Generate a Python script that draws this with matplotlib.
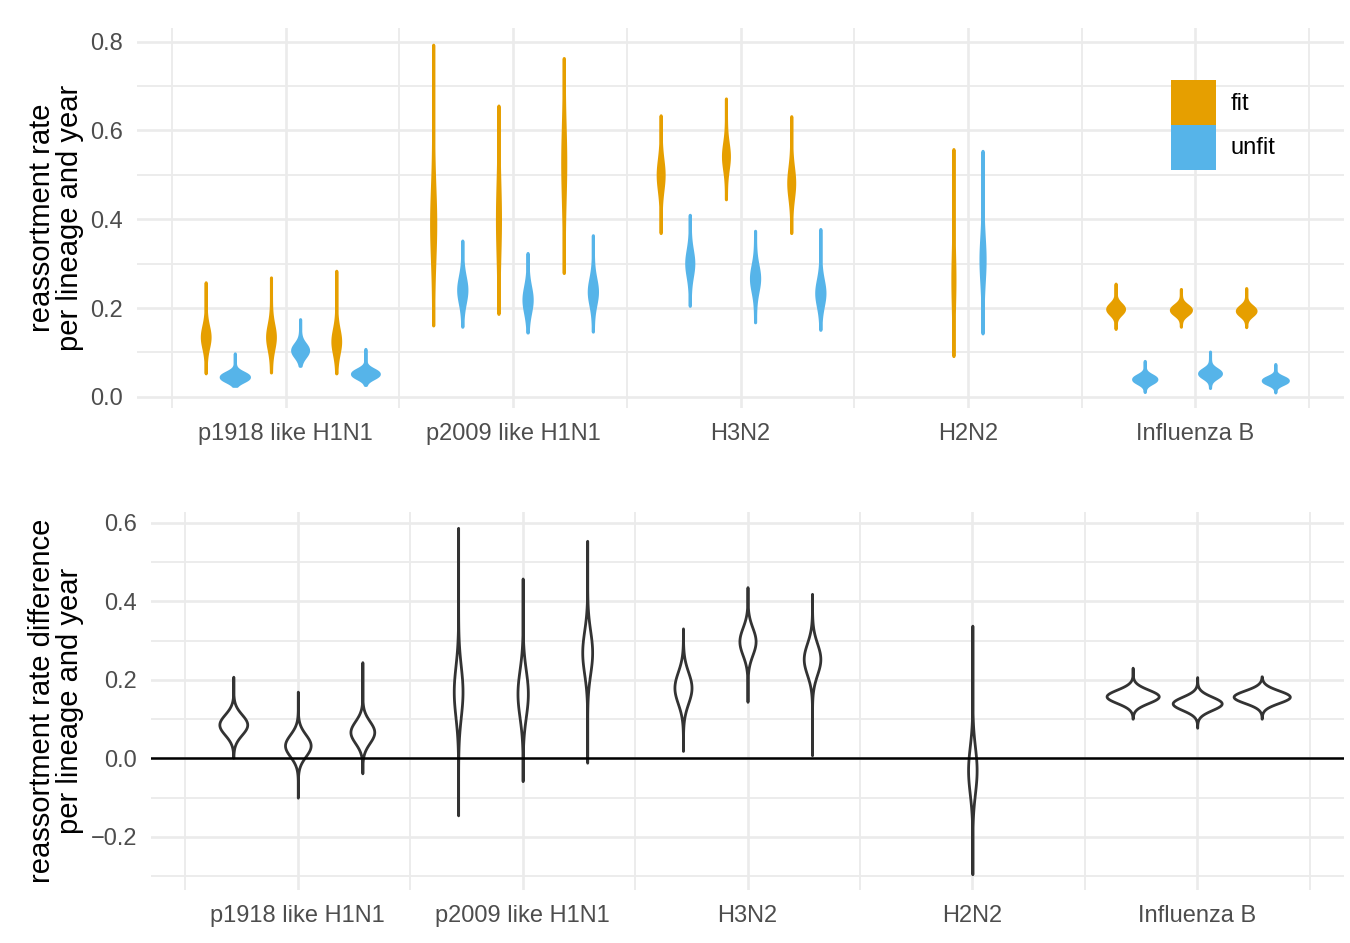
import numpy as np
import matplotlib
matplotlib.use("Agg")
import matplotlib.pyplot as plt
from matplotlib.patches import Patch
from matplotlib.ticker import FuncFormatter

plt.rcParams['font.family'] = ['Liberation Sans', 'DejaVu Sans']

categories = ["p1918 like H1N1", "p2009 like H1N1", "H3N2", "H2N2", "Influenza B"]

# top panel: one entry per run (H2N2 has a single run)
# each violin: lower end, upper end, mode, spread, max half width (x units)
fit_lo = [[0.053, 0.055, 0.053], [0.161, 0.187, 0.279], [0.369, 0.445, 0.369], [0.092], [0.153, 0.158, 0.157]]
fit_hi = [[0.258, 0.269, 0.284], [0.793, 0.656, 0.763], [0.634, 0.672, 0.632], [0.558], [0.255, 0.243, 0.245]]
fit_mode = [[0.135, 0.135, 0.125], [0.390, 0.400, 0.527], [0.500, 0.542, 0.482], [0.264], [0.198, 0.196, 0.194]]
fit_sd = [[0.025, 0.028, 0.028], [0.080, 0.080, 0.080], [0.035, 0.030, 0.035], [0.060], [0.012, 0.011, 0.011]]
fit_w = [[0.017, 0.017, 0.017], [0.009, 0.0066, 0.0066], [0.013, 0.013, 0.013], [0.0045], [0.037, 0.044, 0.041]]

unfit_lo = [[0.025, 0.070, 0.027], [0.158, 0.145, 0.147], [0.205, 0.168, 0.151], [0.143], [0.011, 0.020, 0.010]]
unfit_hi = [[0.098, 0.175, 0.108], [0.352, 0.324, 0.364], [0.410, 0.374, 0.378], [0.554], [0.081, 0.102, 0.074]]
unfit_mode = [[0.045, 0.105, 0.052], [0.241, 0.219, 0.237], [0.301, 0.267, 0.234], [0.309], [0.040, 0.053, 0.037]]
unfit_sd = [[0.010, 0.015, 0.010], [0.030, 0.030, 0.030], [0.030, 0.030, 0.030], [0.050], [0.009, 0.010, 0.008]]
unfit_w = [[0.062, 0.035, 0.059], [0.018, 0.018, 0.018], [0.0155, 0.018, 0.018], [0.009], [0.051, 0.048, 0.055]]

# bottom panel: difference fit - unfit
diff_lo = [[0.002, -0.100, -0.038], [-0.145, -0.058, -0.011], [0.019, 0.144, 0.008], [-0.295], [0.101, 0.078, 0.101]]
diff_hi = [[0.208, 0.170, 0.245], [0.587, 0.458, 0.554], [0.331, 0.436, 0.419], [0.338], [0.231, 0.207, 0.209]]
diff_mode = [[0.086, 0.033, 0.067], [0.170, 0.165, 0.270], [0.180, 0.298, 0.253], [-0.030], [0.158, 0.140, 0.157]]
diff_sd = [[0.026, 0.028, 0.028], [0.065, 0.060, 0.055], [0.040, 0.035, 0.040], [0.060], [0.017, 0.017, 0.016]]
diff_w = [[0.062, 0.057, 0.053], [0.0195, 0.023, 0.022], [0.038, 0.036, 0.037], [0.019], [0.116, 0.109, 0.125]]

FIT = "#E69F00"
UNFIT = "#56B4E9"
GRID = "#EBEBEB"
TICK = "#4D4D4D"


def run_offsets(n):
    if n == 1:
        return [0.0]
    return [-0.287, 0.0, 0.287]


def violin(ax, x, lo, hi, mode, sd, w, **kw):
    y = np.linspace(lo, hi, 300)
    hw = w * np.exp(-0.5 * ((y - mode) / sd) ** 2)
    ax.fill_betweenx(y, x - hw, x + hw, joinstyle="round", **kw)


def style(ax, ylim, yticks, yminor):
    ax.set_xlim(0.347, 5.653)
    ax.set_ylim(*ylim)
    for s in ax.spines.values():
        s.set_visible(False)
    ax.set_xticks(range(1, 6))
    ax.set_xticklabels(categories)
    ax.set_xticks([0.5 + i for i in range(6)], minor=True)
    ax.set_yticks(yticks)
    ax.set_yticks(yminor, minor=True)
    ax.yaxis.set_major_formatter(FuncFormatter(lambda v, p: ("%.1f" % v).replace("-", "\u2212")))
    ax.tick_params(which="both", length=0)
    ax.tick_params(axis="x", labelsize=17, colors=TICK, pad=10.5)
    ax.tick_params(axis="y", labelsize=17, colors=TICK, pad=10)
    ax.grid(which="major", color=GRID, lw=1.9)
    ax.grid(which="minor", color=GRID, lw=1.3)
    ax.set_axisbelow(True)


fig = plt.figure(figsize=(13.5, 9.43), dpi=100)
W, H = 1350, 943
ax1 = fig.add_axes([137 / W, 1 - 408 / H, (1344 - 137) / W, (408 - 28.3) / H])
ax2 = fig.add_axes([151 / W, 1 - 890 / H, (1344 - 151) / W, (890 - 511.7) / H])

for i, cat in enumerate(categories):
    offs = run_offsets(len(fit_lo[i]))
    for j, off in enumerate(offs):
        xc = i + 1 + off
        violin(ax1, xc - 0.064, fit_lo[i][j], fit_hi[i][j], fit_mode[i][j], fit_sd[i][j], fit_w[i][j],
               facecolor=FIT, edgecolor=FIT, lw=2.2)
        violin(ax1, xc + 0.064, unfit_lo[i][j], unfit_hi[i][j], unfit_mode[i][j], unfit_sd[i][j], unfit_w[i][j],
               facecolor=UNFIT, edgecolor=UNFIT, lw=2.2)
        violin(ax2, xc, diff_lo[i][j], diff_hi[i][j], diff_mode[i][j], diff_sd[i][j], diff_w[i][j],
               facecolor="white", edgecolor="#333333", lw=2.0, zorder=3)

ax2.axhline(0, color="black", lw=1.8, zorder=4)

style(ax1, (-0.025, 0.830), [0, 0.2, 0.4, 0.6, 0.8], [0.1, 0.3, 0.5, 0.7])
style(ax2, (-0.335, 0.628), [-0.2, 0, 0.2, 0.4, 0.6], [-0.3, -0.1, 0.1, 0.3, 0.5])

ax1.set_ylabel("reassortment rate\nper lineage and year", fontsize=21, linespacing=1.0)
ax1.yaxis.set_label_coords(-0.044, 0.5)
ax2.set_ylabel("reassortment rate difference\nper lineage and year", fontsize=21, linespacing=1.0)
ax2.yaxis.set_label_coords(-0.056, 0.5)

handles = [Patch(facecolor=FIT, edgecolor="none", label="fit"),
           Patch(facecolor=UNFIT, edgecolor="none", label="unfit")]
ax1.legend(handles=handles, loc="upper left", bbox_to_anchor=(0.857, 0.864), frameon=False,
           fontsize=17, handlelength=1.9, handleheight=2.55, labelspacing=0.0,
           handletextpad=0.62, borderpad=0, borderaxespad=0)

fig.savefig("out.png", dpi=100)
